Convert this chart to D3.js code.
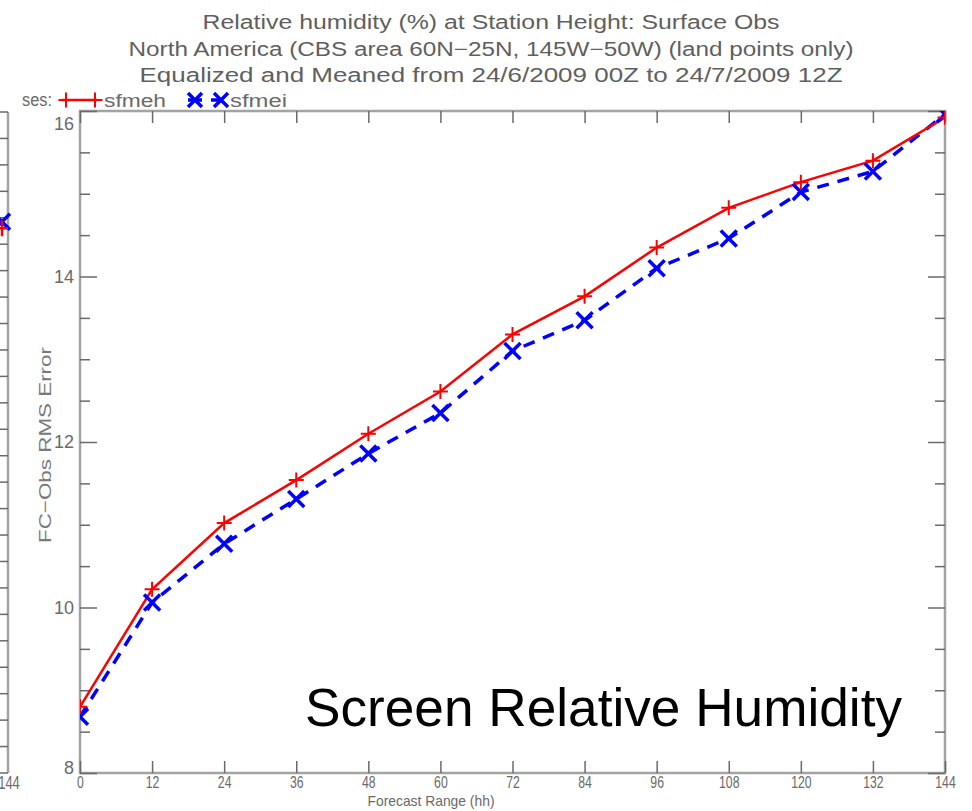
<!DOCTYPE html>
<html>
<head>
<meta charset="utf-8">
<script src="https://cdn.jsdelivr.net/npm/d3@7"></script>
<style>
  body { margin: 0; background: #fff; }
  svg { display: block; }
</style>
</head>
<body>
<svg id="chart" width="972" height="811"></svg>
<script>
var width = 972;
var height = 811;

// data
var hours = [0, 12, 24, 36, 48, 60, 72, 84, 96, 108, 120, 132, 144];
var sfmeh = [8.80, 10.22, 11.02, 11.54, 12.10, 12.61, 13.30, 13.76, 14.35, 14.83, 15.14, 15.40, 15.92];
var sfmei = [8.68, 10.06, 10.77, 11.31, 11.86, 12.35, 13.10, 13.47, 14.10, 14.46, 15.02, 15.27, 15.96];
var yMajor = [8, 10, 12, 14, 16];
var yMinor = [8.5, 9, 9.5, 10.5, 11, 11.5, 12.5, 13, 13.5, 14.5, 15, 15.5];
var titleLines = [
  "Relative humidity (%) at Station Height:  Surface Obs",
  "North America (CBS area 60N\u221225N, 145W\u221250W) (land points only)",
  "Equalized and Meaned from 24/6/2009 00Z to 24/7/2009 12Z"
];
// neighbouring panel (cut off at the left edge)
var neighbourTicks = d3.range(0, 26);
var neighbourEnd = { sfmeh: 20.6, sfmei: 20.85 };

var svg = d3.select("#chart");

var x = d3.scaleLinear().domain([0, 144]).range([80, 945]);
var y = d3.scaleLinear().domain([8, 16]).range([773, 111]);
var yn = d3.scaleLinear().domain([0, 25]).range([773, 112]);

var frameColor = "#a3a3a3";
var tickColor = "#6a6a6a";
var textColor = "#6a6a6a";
var font = "'Liberation Sans', Arial, sans-serif";

// title
svg.selectAll("text.title")
  .data(titleLines)
  .enter().append("text")
    .attr("class", "title")
    .attr("x", 491)
    .attr("y", function(d, i) { return 29 + i * 26.5; })
    .attr("text-anchor", "middle")
    .attr("textLength", function(d, i) { return [577, 725, 703][i]; })
    .attr("lengthAdjust", "spacingAndGlyphs")
    .style("font-family", font)
    .style("font-size", "20px")
    .style("fill", "#5f5f5f")
    .text(function(d) { return d; });

// neighbour panel remains
var nb = svg.append("g");
nb.append("line")
  .attr("x1", 8).attr("x2", 8).attr("y1", yn(0)).attr("y2", yn(25))
  .style("stroke", frameColor).style("stroke-width", 2.5);
nb.selectAll("line.nt")
  .data(neighbourTicks)
  .enter().append("line")
    .attr("class", "nt")
    .attr("x1", 0).attr("x2", 8)
    .attr("y1", function(d) { return yn(d); })
    .attr("y2", function(d) { return yn(d); })
    .style("stroke", tickColor).style("stroke-width", 1.5);
nb.append("text")
  .attr("x", 9).attr("y", 789)
  .attr("text-anchor", "middle")
  .attr("transform", "translate(9,0) scale(0.72,1) translate(-9,0)")
  .style("font-family", font).style("font-size", "18px").style("fill", textColor)
  .text("144");
nb.append("path")
  .attr("d", "M" + (-6) + "," + (yn(neighbourEnd.sfmei) - 8) + "L10," + (yn(neighbourEnd.sfmei) + 8) +
             "M-6," + (yn(neighbourEnd.sfmei) + 8) + "L10," + (yn(neighbourEnd.sfmei) - 8))
  .style("stroke", "#0000ff").style("stroke-width", 3.5).style("fill", "none");
nb.append("path")
  .attr("d", "M-8," + yn(neighbourEnd.sfmeh) + "L8," + yn(neighbourEnd.sfmeh) +
             "M2," + (yn(neighbourEnd.sfmeh) - 8) + "L2," + (yn(neighbourEnd.sfmeh) + 8))
  .style("stroke", "#ff0000").style("stroke-width", 2.5).style("fill", "none");

// frame
svg.append("rect")
  .attr("x", x(0)).attr("y", y(16))
  .attr("width", x(144) - x(0)).attr("height", y(8) - y(16))
  .style("fill", "none").style("stroke", frameColor).style("stroke-width", 2.5);

function styleAxis(g) {
  g.select(".domain").remove();
  g.selectAll(".tick line").style("stroke", tickColor).style("stroke-width", 1.5);
  g.selectAll("text")
    .style("font-family", font).style("font-size", "18px").style("fill", textColor);
}

// y axes
svg.append("g")
  .attr("transform", "translate(" + x(0) + ",0)")
  .call(d3.axisLeft(y).tickValues(yMajor).tickSizeInner(-17).tickSizeOuter(0).tickPadding(6).tickFormat(d3.format("d")))
  .call(styleAxis)
  .call(function(g) {
    g.selectAll(".tick text").attr("dy", function(d) {
      return d === 16 ? "1.0em" : d === 8 ? "0.05em" : "0.32em";
    });
  });
svg.append("g")
  .attr("transform", "translate(" + x(0) + ",0)")
  .call(d3.axisLeft(y).tickValues(yMinor).tickSizeInner(-10).tickSizeOuter(0).tickFormat(""))
  .call(styleAxis);
svg.append("g")
  .attr("transform", "translate(" + x(144) + ",0)")
  .call(d3.axisRight(y).tickValues(yMajor).tickSizeInner(-17).tickSizeOuter(0).tickFormat(""))
  .call(styleAxis);
svg.append("g")
  .attr("transform", "translate(" + x(144) + ",0)")
  .call(d3.axisRight(y).tickValues(yMinor).tickSizeInner(-10).tickSizeOuter(0).tickFormat(""))
  .call(styleAxis);

// x axes
svg.append("g")
  .attr("transform", "translate(0," + y(8) + ")")
  .call(d3.axisBottom(x).tickValues(hours).tickSizeInner(-12).tickSizeOuter(0).tickPadding(3))
  .call(styleAxis)
  .call(function(g) {
    g.selectAll(".tick text").attr("transform", "scale(0.72,1)").attr("dy", "0.7em")
      .style("font-size", "17px");
  });
svg.append("g")
  .attr("transform", "translate(0," + y(16) + ")")
  .call(d3.axisTop(x).tickValues(hours).tickSizeInner(-12).tickSizeOuter(0).tickFormat(""))
  .call(styleAxis);

// axis titles
svg.append("text")
  .attr("transform", "translate(51,445) rotate(-90)")
  .attr("text-anchor", "middle")
  .attr("textLength", 196)
  .attr("lengthAdjust", "spacingAndGlyphs")
  .style("font-family", font).style("font-size", "17px").style("fill", "#7a7a7a")
  .text("FC\u2212Obs  RMS  Error");
svg.append("text")
  .attr("x", 431).attr("y", 806)
  .attr("text-anchor", "middle")
  .attr("textLength", 127)
  .attr("lengthAdjust", "spacingAndGlyphs")
  .style("font-family", font).style("font-size", "15px").style("fill", textColor)
  .text("Forecast Range (hh)");

// series
svg.append("clipPath").attr("id", "plotclip")
  .append("rect")
    .attr("x", x(0)).attr("y", y(16))
    .attr("width", x(144) - x(0)).attr("height", y(8) - y(16));

var plot = svg.append("g").attr("clip-path", "url(#plotclip)");

var line = d3.line()
  .x(function(d) { return x(d[0]); })
  .y(function(d) { return y(d[1]); });

var redPts = d3.zip(hours, sfmeh);
var bluePts = d3.zip(hours, sfmei);

plot.append("path")
  .datum(bluePts)
  .attr("d", line)
  .style("fill", "none").style("stroke", "#0000ff")
  .style("stroke-width", 3.5).style("stroke-dasharray", "12,9");
plot.append("path")
  .datum(redPts)
  .attr("d", line)
  .style("fill", "none").style("stroke", "#ff0000").style("stroke-width", 2.5);

function crossPath(cx, cy, r) {
  return "M" + (cx - r) + "," + (cy - r) + "L" + (cx + r) + "," + (cy + r) +
         "M" + (cx - r) + "," + (cy + r) + "L" + (cx + r) + "," + (cy - r);
}
function plusPath(cx, cy, r) {
  return "M" + (cx - r) + "," + cy + "L" + (cx + r) + "," + cy +
         "M" + cx + "," + (cy - r) + "L" + cx + "," + (cy + r);
}

plot.selectAll("path.bx")
  .data(bluePts)
  .enter().append("path")
    .attr("class", "bx")
    .attr("d", function(d) { return crossPath(x(d[0]), y(d[1]), 8); })
    .style("stroke", "#0000ff").style("stroke-width", 3.5).style("fill", "none");
plot.selectAll("path.rp")
  .data(redPts)
  .enter().append("path")
    .attr("class", "rp")
    .attr("d", function(d) { return plusPath(x(d[0]), y(d[1]), 7.5); })
    .style("stroke", "#ff0000").style("stroke-width", 2).style("fill", "none");

// legend
var lg = svg.append("g");
lg.append("text")
  .attr("x", 22).attr("y", 106)
  .attr("textLength", 30).attr("lengthAdjust", "spacingAndGlyphs")
  .style("font-family", font).style("font-size", "18px").style("fill", textColor)
  .text("ses:");
lg.append("line")
  .attr("x1", 62).attr("x2", 97).attr("y1", 100).attr("y2", 100)
  .style("stroke", "#ff0000").style("stroke-width", 2.5);
lg.selectAll("path.lp")
  .data([66, 95])
  .enter().append("path")
    .attr("class", "lp")
    .attr("d", function(d) { return plusPath(d, 100, 7.5); })
    .style("stroke", "#ff0000").style("stroke-width", 2).style("fill", "none");
lg.append("text")
  .attr("x", 104).attr("y", 107)
  .attr("textLength", 62).attr("lengthAdjust", "spacingAndGlyphs")
  .style("font-family", font).style("font-size", "18px").style("fill", textColor)
  .text("sfmeh");
lg.append("line")
  .attr("x1", 188).attr("x2", 221).attr("y1", 100).attr("y2", 100)
  .style("stroke", "#0000ff").style("stroke-width", 3.5).style("stroke-dasharray", "14,9");
lg.selectAll("path.lx")
  .data([195, 221])
  .enter().append("path")
    .attr("class", "lx")
    .attr("d", function(d) { return crossPath(d, 100, 7); })
    .style("stroke", "#0000ff").style("stroke-width", 3.5).style("fill", "none");
lg.append("text")
  .attr("x", 230).attr("y", 107)
  .attr("textLength", 57).attr("lengthAdjust", "spacingAndGlyphs")
  .style("font-family", font).style("font-size", "18px").style("fill", textColor)
  .text("sfmei");

// panel caption
svg.append("text")
  .attr("x", 305).attr("y", 726)
  .attr("textLength", 597).attr("lengthAdjust", "spacingAndGlyphs")
  .style("font-family", font).style("font-size", "53px").style("fill", "#000")
  .text("Screen Relative Humidity");
</script>
</body>
</html>
